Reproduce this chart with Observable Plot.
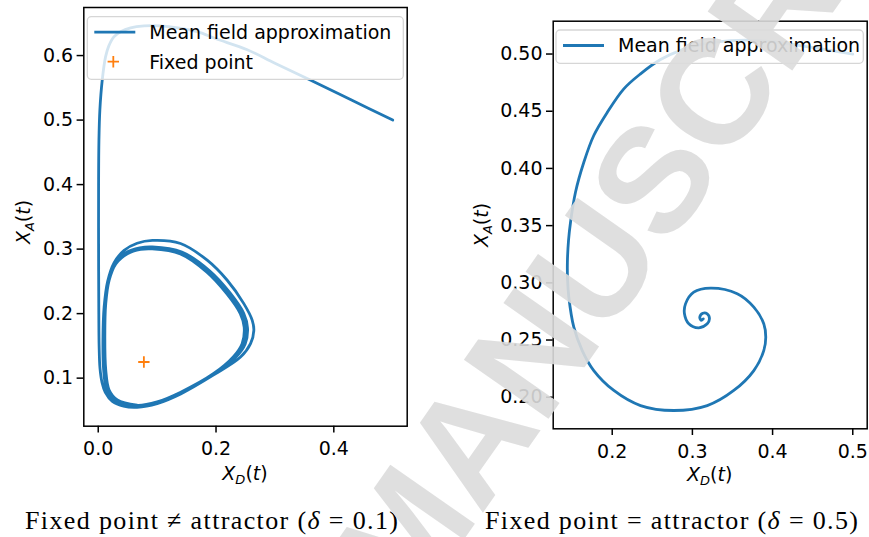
<!DOCTYPE html>
<html><head><meta charset="utf-8">
<script src="https://cdn.jsdelivr.net/npm/d3@7"></script>
<script src="https://cdn.jsdelivr.net/npm/@observablehq/plot@0.6"></script>
<style>
html,body{margin:0;padding:0;background:#fff;}
#wrap{position:relative;width:869px;height:537px;overflow:hidden;background:#fff;}
#wrap svg{position:absolute;top:0;}
</style></head><body><div id="wrap"></div>
<script>
// ---------- data ----------
// Left panel, delta = 0.1 : [X_D, X_A]
const leftTrajectory = [
  [0.500,0.500],[0.430,0.531],[0.360,0.562],[0.300,0.588],[0.253,0.609],[0.200,0.626],[0.168,0.637],
  [0.135,0.643],[0.106,0.646],[0.078,0.646],[0.055,0.643],[0.038,0.637],[0.0265,0.629],[0.018,0.615],
  [0.0124,0.598],[0.0068,0.562],[0.0028,0.516],[0.0012,0.469],[0.0006,0.40],[0.0006,0.30],[0.001,0.20],
  [0.0015,0.15],[0.003,0.115],[0.0065,0.093],[0.012,0.078],[0.024,0.064],[0.043,0.0565],[0.066,0.0548],
  [0.100,0.0605],[0.140,0.0755],[0.196,0.105],[0.2416,0.1326],[0.2586,0.1534],[0.2642,0.174],[0.2615,0.1896],
  [0.2472,0.2155],[0.219,0.2517],[0.185,0.2828],[0.1397,0.3087],[0.092,0.3135],[0.066,0.309],[0.044,0.298],
  [0.027,0.279],[0.016,0.250],[0.010,0.210],[0.008,0.160],[0.009,0.115],[0.014,0.084],[0.027,0.067],[0.050,0.058],
  [0.066,0.0565],[0.100,0.0615],[0.140,0.0765],[0.196,0.1058],[0.233,0.1318],[0.2495,0.153],[0.2535,0.1775],
  [0.247,0.2005],[0.2235,0.2325],[0.189,0.2665],[0.142,0.2955],[0.092,0.3035],[0.0705,0.302],[0.047,0.2945],
  [0.028,0.2775],[0.0165,0.2505],[0.0112,0.215],[0.0095,0.164],[0.011,0.113],[0.0165,0.082],[0.031,0.0655],
  [0.066,0.0572],[0.100,0.0625],[0.140,0.0775],[0.196,0.1065],[0.231,0.1325],[0.2462,0.1532],[0.2498,0.1788],
  [0.2432,0.2002],[0.2205,0.2312],[0.1862,0.2652],[0.1405,0.2938],[0.0918,0.3015],[0.0715,0.3005],[0.0485,0.2935],
  [0.0288,0.2772],[0.0175,0.2512],[0.0120,0.2155],[0.0103,0.164],[0.0120,0.1122],[0.0177,0.0812],[0.0318,0.0659],
  [0.066,0.0578],[0.100,0.0632],[0.140,0.0783],[0.196,0.1072],[0.2296,0.1333],[0.2443,0.1535],[0.2478,0.179],
  [0.2412,0.200],[0.2185,0.2305],[0.1845,0.2642],[0.1395,0.2925],[0.0915,0.3003],[0.072,0.2995],[0.0495,0.2928],
  [0.0298,0.277],[0.0185,0.2515],[0.0128,0.2158],[0.0112,0.1642],[0.0128,0.1125],[0.0185,0.0815],[0.0325,0.0662],
  [0.066,0.0582]
];
const leftFixedPoint = [[0.0775,0.125]];
// Right panel, delta = 0.5
const rightTrajectory = [
  [0.500,0.500],[0.4348,0.5074],[0.3849,0.5118],[0.3475,0.5118],[0.3163,0.5092],[0.2877,0.5039],[0.2603,0.4952],
  [0.2353,0.4827],[0.2145,0.4696],[0.1938,0.449],[0.177,0.4288],[0.1646,0.4054],[0.1542,0.3792],[0.148,0.353],
  [0.1455,0.337],[0.1441,0.318],[0.1443,0.303],[0.1459,0.2874],[0.1521,0.2612],[0.1626,0.2408],[0.177,0.2233],
  [0.202,0.2059],[0.2353,0.1927],[0.2768,0.1884],[0.3185,0.1927],[0.3516,0.2059],[0.3766,0.2233],[0.389,0.2408],
  [0.3915,0.2525],[0.389,0.2642],[0.3766,0.2787],[0.3559,0.2904],[0.3226,0.2953],[0.3017,0.2918],[0.2914,0.2816],
  [0.2901,0.2729],[0.2955,0.2642],[0.308,0.2607],[0.3185,0.2642],[0.3213,0.2685],[0.3185,0.2729],[0.313,0.2734],
  [0.3092,0.2699],[0.311,0.2672],[0.3135,0.2685]
];
const leftXTicks = [0.0, 0.2, 0.4];
const leftYTicks = [0.1, 0.2, 0.3, 0.4, 0.5, 0.6];
const rightXTicks = [0.2, 0.3, 0.4, 0.5];
const rightYTicks = [0.20, 0.25, 0.30, 0.35, 0.40, 0.45, 0.50];
const leftDomainX = [-0.0245, 0.5246], leftDomainY = [0.0255, 0.6745];
const rightDomainX = [0.1264, 0.518], rightDomainY = [0.1724, 0.5287];
const captions = [
  {pre: "Fixed point \u2260 attractor (", greek: "\u03B4", post: " = 0.1)"},
  {pre: "Fixed point = attractor (", greek: "\u03B4", post: " = 0.5)"}
];
const legendLabels = ["Mean field approximation", "Fixed point"];
const watermark = "MANUSCRIPT";

// ---------- drawing ----------
const blue = "#1f77b4", orange = "#ff7f0e";
const plusSymbol = {draw(ctx, size){ const r = Math.sqrt(size)/2; ctx.moveTo(-r,0); ctx.lineTo(r,0); ctx.moveTo(0,-r); ctx.lineTo(0,r); }};
const wrap = d3.select("#wrap");

function panel(o){
  const marks = [
    Plot.line(o.data, {x: d=>d[0], y: d=>d[1], stroke: blue, strokeWidth: 2.8, curve: "catmull-rom"}),
  ];
  if (o.fixed) marks.push(Plot.dot(o.fixed, {x: d=>d[0], y: d=>d[1], symbol: plusSymbol, r: 6.4, stroke: orange, fill: "none", strokeWidth: 1.8}));
  marks.push(
    Plot.axisX(o.xTicks, {tickSize: 6.7, tickPadding: 9, tickFormat: o.xFmt, strokeWidth: 1.5, label: null}),
    Plot.axisY(o.yTicks, {tickSize: 6.7, tickPadding: 4, tickFormat: o.yFmt, strokeWidth: 1.5, label: null}),
    Plot.frame({stroke: "#000", strokeWidth: 1.5})
  );
  const el = Plot.plot({
    width: o.width, height: 537,
    marginLeft: o.ml, marginRight: o.mr, marginTop: o.mt, marginBottom: o.mb,
    x: {domain: o.xDomain, label: null},
    y: {domain: o.yDomain, label: null},
    style: {fontFamily: "DejaVu Sans", fontSize: "19px", color: "#000", background: "transparent"},
    marks
  });
  const svg = d3.select(el);
  svg.style("left", o.left + "px");
  const g = svg.append("g").attr("text-anchor","start").attr("font-family","DejaVu Sans").attr("font-size",19).attr("fill","#000");
  // axis labels with subscripts
  function mathLabel(x, y, sub, rot){
    const t = g.append("text").attr("transform", `translate(${x},${y}) rotate(${rot})`).attr("text-anchor","middle");
    t.append("tspan").attr("font-style","italic").text("X");
    t.append("tspan").attr("font-style","italic").attr("font-size",13).attr("dy",4).text(sub);
    t.append("tspan").attr("dy",-4).text("(");
    t.append("tspan").attr("font-style","italic").text("t");
    t.append("tspan").text(")");
  }
  mathLabel(o.xl[0], o.xl[1], "D", 0);
  mathLabel(o.yl[0], o.yl[1], "A", -90);
  // legend
  const L = o.legend;
  g.append("rect").attr("x",L.x).attr("y",L.y).attr("width",L.w).attr("height",L.h).attr("rx",4)
    .attr("fill","#fff").attr("fill-opacity",0.8).attr("stroke","#d6d6d6").attr("stroke-width",1.3);
  g.append("path").attr("d",`M${L.x+7},${L.y+15.5}H${L.x+48}`)
    .attr("stroke",blue).attr("stroke-width",2.8).attr("fill","none");
  g.append("text").attr("x",L.x+62).attr("y",L.y+15.5).attr("dy","0.36em").text(legendLabels[0]);
  if (o.fixed){
    g.append("path").attr("d",`M${L.x+20.3},${L.y+45}H${L.x+31.7}M${L.x+26},${L.y+39.3}V${L.y+50.7}`)
      .attr("stroke",orange).attr("stroke-width",1.8).attr("fill","none");
    g.append("text").attr("x",L.x+62).attr("y",L.y+45).attr("dy","0.36em").text(legendLabels[1]);
  }
  wrap.node().appendChild(el);
}

panel({data: leftTrajectory, fixed: leftFixedPoint, xDomain: leftDomainX, yDomain: leftDomainY,
  xTicks: leftXTicks, yTicks: leftYTicks, xFmt: d=>d.toFixed(1), yFmt: d=>d.toFixed(1),
  width: 434, left: 0, ml: 83.3, mr: 434-406.7, mt: 7, mb: 537-425.7,
  xl: [245, 480], yl: [30, 222], legend: {x: 87.3, y: 16.7, w: 316, h: 62.6}});

panel({data: rightTrajectory, fixed: null, xDomain: rightDomainX, yDomain: rightDomainY,
  xTicks: rightXTicks, yTicks: rightYTicks, xFmt: d=>d.toFixed(1), yFmt: d=>d.toFixed(2),
  width: 435, left: 434, ml: 552.7-434, mr: 869-866.7, mt: 20.7, mb: 537-428.3,
  xl: [709.7-434, 481], yl: [488-434, 225], legend: {x: 556-434, y: 30, w: 307.3, h: 33.3}});

// captions and watermark overlay
const ov = wrap.append("svg").attr("width",869).attr("height",537).style("left","0px").style("pointer-events","none");
[[211.5, captions[0]], [671.5, captions[1]]].forEach(([cx, c]) => {
  const t = ov.append("text").attr("x",cx).attr("y",529).attr("text-anchor","middle")
    .attr("font-family","Liberation Serif").attr("font-size",26).attr("fill","#000")
    .attr("textLength",373).attr("lengthAdjust","spacing");
  t.append("tspan").text(c.pre);
  t.append("tspan").attr("font-style","italic").text(c.greek);
  t.append("tspan").text(c.post);
});
ov.append("text").attr("transform","translate(409,618) rotate(-55)")
  .attr("font-family","Liberation Sans").attr("font-weight","bold").attr("font-size",150)
  .attr("fill","#dcdcdc").attr("fill-opacity",0.9)
  .text(watermark);
</script></body></html>
